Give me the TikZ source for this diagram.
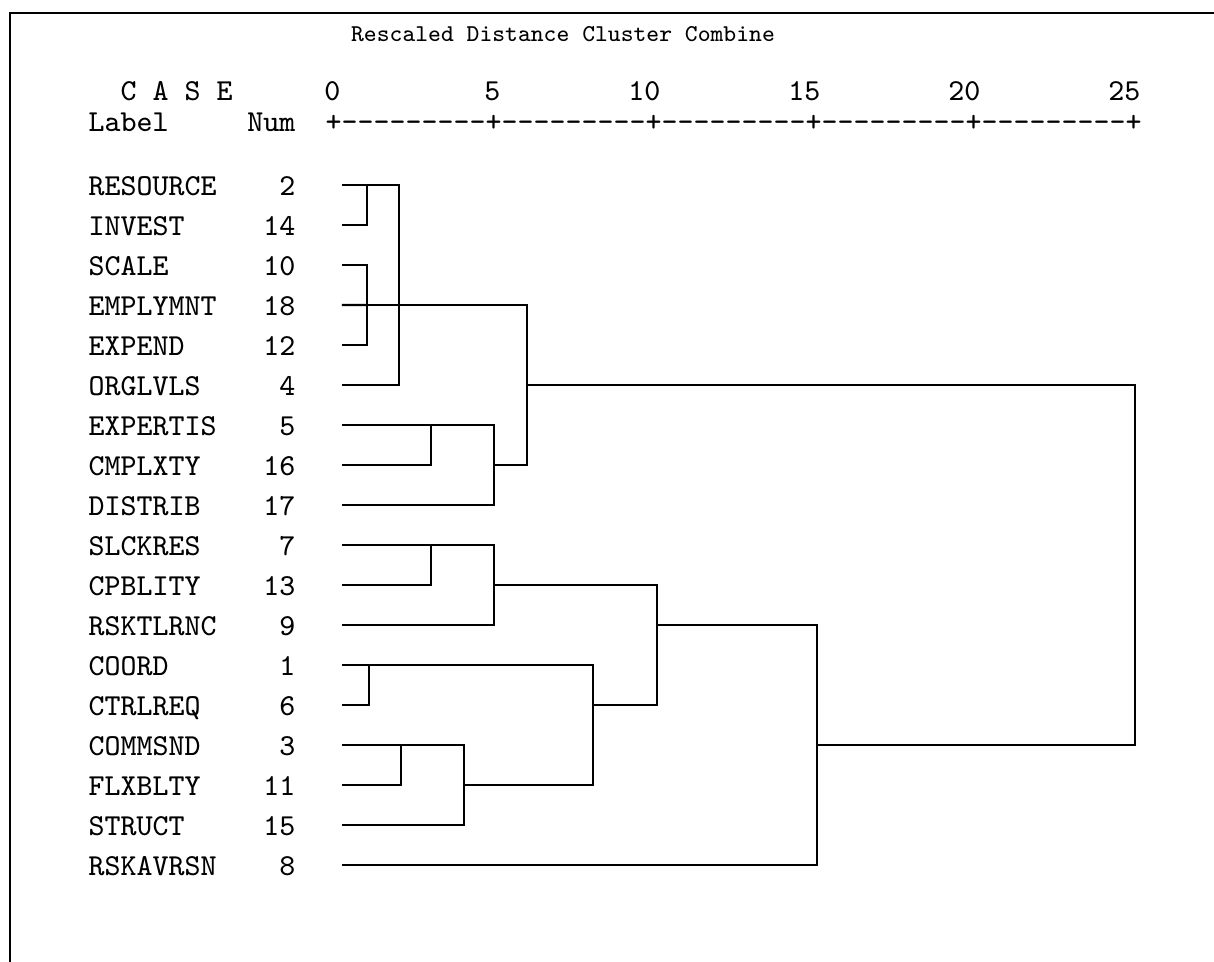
\documentclass[tikz,border=0pt]{standalone}
\usepackage{fontspec}
\usepackage{tikz}

\begin{document}
\begin{tikzpicture}[lbl/.style={inner sep=0pt, text height=0.6em, text depth=0pt, font=\ttfamily\fontsize{8.67}{10}\selectfont},
	ttl/.style={lbl, font=\ttfamily\fontsize{6.88}{8}\selectfont},
	tree/.style={line width=0.65pt, line cap=rect}]

	\useasboundingbox (0,0) rectangle (12.14,-9.62);

	% frame
	\draw[line width=0.6pt] (0.10,-9.62) -- (0.10,-0.13) -- (12.14,-0.13);

	\node[ttl] (title) at (5.63,-0.31) {Rescaled Distance Cluster Combine};
	\node[lbl, anchor=west] (case) at (1.20,-0.90) {C A S E};
	\node[lbl, anchor=west] (label) at (0.88,-1.21) {Label};
	\node[lbl, anchor=east] (num) at (2.96,-1.21) {Num};
	\node[lbl, anchor=west] (axis) at (3.25,-1.21) {+---------+---------+---------+---------+---------+};
	\foreach \v [count=\k] in {0,5,10,15,20,25}{
		\node[lbl, anchor=east] (tick\v) at ({3.41+1.6*(\k-1)},-0.90) {\v};
	}

	% cases, top to bottom
	\foreach \lab/\n [count=\r] in {RESOURCE/2, INVEST/14, SCALE/10, EMPLYMNT/18, EXPEND/12, ORGLVLS/4,
		EXPERTIS/5, CMPLXTY/16, DISTRIB/17, SLCKRES/7, CPBLITY/13, RSKTLRNC/9,
		COORD/1, CTRLREQ/6, COMMSND/3, FLXBLTY/11, STRUCT/15, RSKAVRSN/8}{
		\node[lbl, anchor=west] (lab\n) at (0.88,{-1.85-0.4*(\r-1)}) {\lab};
		\node[lbl, anchor=east] (num\n) at (2.96,{-1.85-0.4*(\r-1)}) {\n};
		\coordinate (\n) at (3.43,{-1.85-0.4*(\r-1)});
	}

	% joins
	\coordinate (j1) at (3.67,-1.85);
	\coordinate (j2) at (3.67,-3.05);
	\coordinate (j3) at (3.99,-3.05);
	\coordinate (j4) at (4.31,-4.25);
	\coordinate (j5) at (4.94,-4.65);
	\coordinate (j6) at (5.27,-3.85);
	\coordinate (j7) at (4.31,-5.45);
	\coordinate (j8) at (4.94,-5.85);
	\coordinate (j9) at (3.69,-6.65);
	\coordinate (j10) at (4.01,-7.45);
	\coordinate (j11) at (4.64,-7.85);
	\coordinate (j12) at (5.93,-7.05);
	\coordinate (j13) at (6.57,-6.25);
	\coordinate (j14) at (8.17,-7.45);
	\coordinate (root) at (11.35,-5.65);

	\draw[tree] (2) -| (j1) |- (14);
	\draw[tree] (10) -| (j2) |- (12);
	\draw[tree] (18) -- (j2);
	\draw[tree] (j1) -| (j3) |- (4);
	\draw[tree] (j2) -- (j3);
	\draw[tree] (5) -| (j4) |- (16);
	\draw[tree] (j4) -| (j5) |- (17);
	\draw[tree] (j3) -| (j6) |- (j5);
	\draw[tree] (7) -| (j7) |- (13);
	\draw[tree] (j7) -| (j8) |- (9);
	\draw[tree] (1) -| (j9) |- (6);
	\draw[tree] (3) -| (j10) |- (11);
	\draw[tree] (j10) -| (j11) |- (15);
	\draw[tree] (j9) -| (j12) |- (j11);
	\draw[tree] (j8) -| (j13) |- (j12);
	\draw[tree] (j13) -| (j14) |- (8);
	\draw[tree] (j6) -| (root) |- (j14);
\end{tikzpicture}
\end{document}
